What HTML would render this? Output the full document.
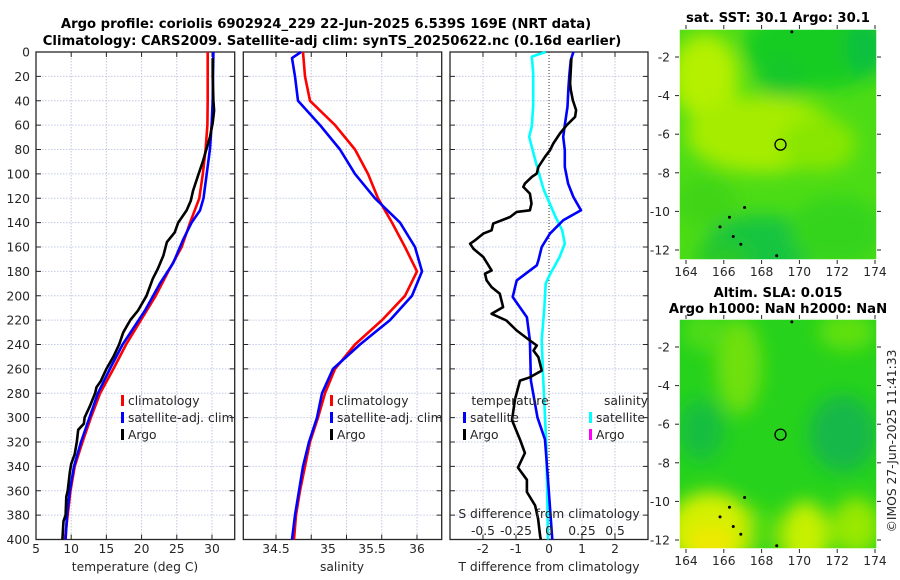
<!DOCTYPE html>
<html><head><meta charset="utf-8">
<style>
html,body{margin:0;padding:0;background:#fff;}
svg{display:block;font-family:"DejaVu Sans","Liberation Sans",sans-serif;}
.tk{font-size:12.3px;fill:#262626;}
.ttl{font-size:13.2px;font-weight:bold;fill:#000;}
</style></head>
<body>
<svg id="fig" width="900" height="580" viewBox="0 0 900 580" xmlns="http://www.w3.org/2000/svg">
<defs>
<filter id="bl" x="-50%" y="-50%" width="200%" height="200%"><feGaussianBlur stdDeviation="9"/></filter>
<clipPath id="cm1"><rect x="679" y="29" width="198" height="231"/></clipPath>
<clipPath id="cm2"><rect x="679" y="319" width="198" height="230"/></clipPath>
</defs>
<text class="ttl" x="326" y="28" text-anchor="middle">Argo profile: coriolis 6902924_229 22-Jun-2025 6.539S 169E (NRT data)</text>
<text class="ttl" x="332" y="45" text-anchor="middle">Climatology: CARS2009. Satellite-adj clim: synTS_20250622.nc (0.16d earlier)</text>
<g id="plots"></g>
<text class="ttl" x="778" y="22" text-anchor="middle">sat. SST: 30.1 Argo: 30.1</text>
<text class="ttl" x="778" y="297" text-anchor="middle">Altim. SLA: 0.015</text>
<text class="ttl" x="778" y="313" text-anchor="middle">Argo h1000: NaN h2000: NaN</text>
<text class="tk" transform="translate(896,441) rotate(-90)" text-anchor="middle">©IMOS 27-Jun-2025 11:41:33</text>
</svg>
<script>
// ---- data ----
const depthStd = [0,20,40,60,80,100,120,140,160,180,200,220,240,260,280,300,320,340,360,380,400];
const tempClim = [29.4,29.4,29.4,29.35,29.1,28.7,28.2,26.9,25.7,23.8,22.0,19.9,17.8,16.0,14.1,12.8,11.6,10.5,9.9,9.5,9.1];
const depthSatT = [0,20,40,60,80,100,120,130,140,154,173,190,212,240,260,280,300,320,340,360,380,400];
const tempSat = [30.2,30.15,30.1,29.95,29.7,29.25,28.8,28.3,27.1,25.9,24.5,22.6,20.5,17.3,15.5,13.8,12.6,11.4,10.4,9.8,9.4,9.2];
const depthArgo = [5,20,40,48,58,70,80,90,100,114,122,130,140,148,156,167,178,186,200,212,220,230,240,250,260,270,275,280,290,300,305,310,320,330,338,345,360,365,380,385,400];
const tempArgo = [30.1,30.1,30.2,30.3,30.1,29.7,29.2,28.7,28.1,27.3,27.0,26.4,25.2,24.7,23.6,23.1,22.3,21.6,20.7,19.5,18.4,17.4,16.8,16.0,15.0,14.2,13.6,13.4,12.7,11.9,11.8,11.0,10.8,10.5,10.0,9.8,9.5,9.3,9.2,8.9,8.75];
const salClim = [34.787,34.809,34.862,35.128,35.340,35.479,35.585,35.734,35.872,36.0,35.872,35.628,35.340,35.128,35.021,34.947,34.862,34.809,34.755,34.713,34.691];
const depthSatS = [0,5,20,40,60,80,100,120,140,160,180,200,220,240,260,280,300,320,340,360,380,400];
const salSat = [34.766,34.670,34.702,34.734,34.968,35.181,35.340,35.553,35.819,35.979,36.053,35.947,35.713,35.394,35.106,34.989,34.936,34.851,34.787,34.745,34.702,34.670];
const depthDiffSatT = [0,6.6,17.5,28.5,44.9,60,69.6,80.6,94.3,108,119,129.9,138.1,149,160,171,175,187.4,201,217.6,236.7,269.6,300,318,351,400];
const diffSatT = [0.74,0.66,0.62,0.59,0.56,0.48,0.43,0.48,0.48,0.58,0.74,0.97,0.43,0.03,-0.22,-0.32,-0.37,-0.98,-1.10,-0.67,-0.58,-0.55,-0.35,-0.12,-0.03,0.1];
const depthDiffArgoT = [5,25.8,31.2,39.5,47.7,53.2,60,66.9,75.1,80.6,86,94.3,99.7,102.5,108,110.7,116.2,124.4,129.9,131.2,135.4,140.8,146.3,149,154.5,157.3,161.4,168.2,179.2,181.9,187.4,192.9,198.4,209.3,214.8,220.3,228.5,236.7,240.8,245,250.4,255.9,261.4,266.9,269.6,285,302,318,329,341,351,361,372,383,397,400];
const diffArgoT = [0.68,0.64,0.66,0.72,0.82,0.79,0.54,0.33,0.13,0.03,-0.12,-0.32,-0.37,-0.52,-0.73,-0.78,-0.58,-0.53,-0.58,-0.98,-1.18,-1.69,-1.74,-1.99,-2.24,-2.39,-2.29,-1.99,-1.74,-1.94,-1.89,-1.74,-1.49,-1.39,-1.74,-1.29,-0.98,-0.58,-0.37,-0.47,-0.32,-0.27,-0.22,-0.58,-0.88,-1.03,-1.12,-0.88,-0.73,-0.94,-0.67,-0.67,-0.42,-0.33,-0.27,-0.25];
const depthDiffSatS = [0,3.8,17.5,44,61,69.6,77.8,94.3,113,121.7,135.4,146.3,157.3,168.2,181.9,190,209.3,236.7,269.6,324,397,400];
const diffSatS = [-0.025,-0.13,-0.12,-0.12,-0.13,-0.15,-0.13,-0.09,-0.04,-0.005,0.05,0.10,0.12,0.08,0.01,-0.025,-0.035,-0.055,-0.043,-0.02,-0.008,-0.008];
const depthTicks = [0,20,40,60,80,100,120,140,160,180,200,220,240,260,280,300,320,340,360,380,400];
const tempTicks = [5,10,15,20,25,30];
const salTicks = [34.5,35,35.5,36];
const salGrid = [34.5,34.875,35.25,35.625,36];
const tdiffTicks = [-2,-1,0,1,2];
const sdiffTicks = [-0.5,-0.25,0,0.25,0.5];
const lonTicks = [164,166,168,170,172,174];
const latTicks = [-2,-4,-6,-8,-10,-12];
const argoLon = 169.0, argoLat = -6.539;

// ---- helpers ----
const NS = 'http://www.w3.org/2000/svg';
const root = document.getElementById('plots');
function mk(tag, attrs, parent){const e=document.createElementNS(NS,tag);for(const k in attrs)e.setAttribute(k,attrs[k]);(parent||root).appendChild(e);return e;}
const Y0=52, Y1=539.5;
const yD = d => Y0 + (d/400)*(Y1-Y0);
function lin(d0,d1,r0,r1){return v=>r0+(v-d0)/(d1-d0)*(r1-r0);}
const xT = lin(5,33.23,36,234.7);
const xS = lin(34.152,36.263,243.3,441.7);
const xTd = lin(-3,3,450,648);
const xSd = lin(-0.75,0.75,450,648);

function panel(name, x0, x1, gridXs){
  const g = mk('g',{});
  
  
  depthTicks.forEach(d=>{
    const l=mk('line',{x1:x0,x2:x1,y1:yD(d),y2:yD(d),stroke:'#c4cbe6','stroke-width':1,'stroke-dasharray':'1.5,1.5'},g);
    
    
    mk('line',{x1:x0,x2:x0+5,y1:yD(d),y2:yD(d),stroke:'#262626'},g);
    mk('line',{x1:x1-5,x2:x1,y1:yD(d),y2:yD(d),stroke:'#262626'},g);
  });
  gridXs.forEach(x=>{
    const l=mk('line',{x1:x,x2:x,y1:Y0,y2:Y1,stroke:'#c8c4de','stroke-width':1,'stroke-dasharray':'1.5,1.5'},g);
    
    
    mk('line',{x1:x,x2:x,y1:Y0,y2:Y0+5,stroke:'#262626'},g);
    mk('line',{x1:x,x2:x,y1:Y1-5,y2:Y1,stroke:'#262626'},g);
  });
  const r=mk('rect',{x:x0,y:Y0,width:x1-x0,height:Y1-Y0,fill:'none',stroke:'#262626','stroke-width':1.3},g);
  
  
  return g;
}
function series(name, g, ds, vs, xf, color){
  const pts = ds.map((d,i)=>xf(vs[i]).toFixed(1)+','+yD(d).toFixed(1)).join(' ');
  const p = mk('polyline',{points:pts,fill:'none',stroke:color,'stroke-width':2.6,'stroke-linejoin':'round'},g);
  
  
}
function text(name, x, y, s, anchor, g, cls){
  const t = mk('text',{x:x,y:y,'text-anchor':anchor||'middle',class:cls||'tk'},g);
  t.textContent = s;
  
  
  return t;
}
function legItem(name, g, x, y, color, label){
  const r = mk('rect',{x:x,y:y-10,width:3,height:11,fill:color},g);
  
  
  text(name+'-label', x+7, y, label, 'start', g);
}

depthTicks.forEach(d=>text('depth-tick-label',30,yD(d)+4.5,String(d),'end'));

const g1 = panel('temperature-panel',36,234.7,tempTicks.map(xT));
series('temp-climatology-line',g1,depthStd,tempClim,xT,'#ff0000');
series('temp-satellite-line',g1,depthSatT,tempSat,xT,'#0000ff');
series('temp-argo-line',g1,depthArgo,tempArgo,xT,'#000000');
tempTicks.forEach(v=>text('temp-tick-label',xT(v),553,String(v)));
text('temp-axis-title',135,571,'temperature (deg C)');
legItem('legend-climatology',g1,121,405,'#ff0000','climatology');
legItem('legend-satellite-adj',g1,121,422,'#0000ff','satellite-adj. clim');
legItem('legend-argo',g1,121,439,'#000000','Argo');

const g2 = panel('salinity-panel',243.3,441.7,salGrid.map(xS));
series('sal-climatology-line',g2,depthStd,salClim,xS,'#ff0000');
series('sal-satellite-line',g2,depthSatS,salSat,xS,'#0000ff');
[276,328,372,417].forEach((px,i)=>text('sal-tick-label',px,553,String(salTicks[i])));
text('sal-axis-title',342,571,'salinity');
legItem('legend2-climatology',g2,330,405,'#ff0000','climatology');
legItem('legend2-satellite-adj',g2,330,422,'#0000ff','satellite-adj. clim');
legItem('legend2-argo',g2,330,439,'#000000','Argo');

const g3 = panel('difference-panel',450,648,tdiffTicks.filter(v=>v!==0).map(xTd));
const zl = mk('line',{x1:xTd(0),x2:xTd(0),y1:Y0,y2:Y1,stroke:'#333','stroke-width':1,'stroke-dasharray':'1,2'},g3);


series('sdiff-satellite-line',g3,depthDiffSatS,diffSatS,xSd,'#00ffff');
series('tdiff-satellite-line',g3,depthDiffSatT,diffSatT,xTd,'#0000ff');
series('tdiff-argo-line',g3,depthDiffArgoT,diffArgoT,xTd,'#000000');
tdiffTicks.forEach(v=>text('tdiff-tick-label',xTd(v),553,String(v)));
sdiffTicks.forEach(v=>text('sdiff-tick-label',xSd(v),535,String(v)));
text('sdiff-axis-title',549,518,'S difference from climatology');
text('tdiff-axis-title',549,571,'T difference from climatology');
text('legend3-temperature-header',510,405,'temperature');
legItem('legend3-temp-satellite',g3,463,422,'#0000ff','satellite');
legItem('legend3-temp-argo',g3,463,439,'#000000','Argo');
text('legend3-salinity-header',626,405,'salinity');
legItem('legend3-sal-satellite',g3,589,422,'#00ffff','satellite');
legItem('legend3-sal-argo',g3,589,439,'#ff00ff','Argo');

const xLon = lin(164,174,686,875);
function map(name, top, bottom, latTop, clip, base, blobs){
  const yLat = lin(-2,-12,latTop, latTop+193);
  const g = mk('g',{});
  
  
  const c = mk('g',{'clip-path':'url(#'+clip+')'},g);
  mk('rect',{x:679,y:top,width:198,height:bottom-top,fill:base},c);
  const bg = mk('g',{filter:'url(#bl)'},c);
  blobs.forEach(b=>{
    const e=mk('ellipse',{cx:xLon(b[0]),cy:yLat(b[1]),rx:b[2]*18.9,ry:b[3]*19.3,fill:b[4]},bg);
    
    
  });
  [[165.8,-10.8],[166.5,-11.3],[166.9,-11.7],[166.3,-10.3],[167.1,-9.8],[168.8,-12.3],[169.6,-0.7]].forEach(p=>{
    mk('circle',{cx:xLon(p[0]),cy:yLat(p[1]),r:1.5,fill:'#000'},c);
  });
  const ci=mk('circle',{cx:xLon(argoLon),cy:yLat(argoLat),r:5.5,fill:'none',stroke:'#000','stroke-width':1.3},g);
  
  
  mk('rect',{x:679,y:top,width:198,height:bottom-top,fill:'none',stroke:'#fff','stroke-width':1.5},g);
  lonTicks.forEach(v=>{
    mk('line',{x1:xLon(v),x2:xLon(v),y1:top-4,y2:top,stroke:'#262626'},g);
    mk('line',{x1:xLon(v),x2:xLon(v),y1:bottom,y2:bottom+4,stroke:'#262626'},g);
    text('lon-tick-label',xLon(v),bottom+16,String(v),'middle',g);
  });
  latTicks.forEach(v=>{
    mk('line',{x1:675,x2:679,y1:yLat(v),y2:yLat(v),stroke:'#262626'},g);
    mk('line',{x1:877,x2:881,y1:yLat(v),y2:yLat(v),stroke:'#262626'},g);
    text('lat-tick-label',670,yLat(v)+4.5,String(v),'end',g);
  });
}
map('sst-map',29,260,57,'cm1','#4cdc16',[
  [171,-1.5,4,2.2,'#18cc22'],[169,-3,1.2,1.2,'#14c82a'],[173.5,-1.5,1,1.5,'#10c040'],
  [165,-3,1.8,2.2,'#b4f000'],[168,-6,4,2,'#a6ec00'],[171,-6.5,2,1.4,'#88e600'],
  [165,-9.5,1.6,1.3,'#40d418'],[168,-11.8,3,1.6,'#14c440'],[172,-11,2.5,1.8,'#34d41c'],[166,-12.3,1.5,0.8,'#28c82c']]);
map('sla-map',319,549,347,'cm2','#26d21c',[
  [166.8,-3,1.2,2.5,'#70e010'],[172.5,-1.2,1.5,1,'#60e010'],[165,-1.2,1.2,1,'#50dc14'],
  [172.3,-6.5,1.8,2,'#12b848'],[164.8,-6.3,1.2,1.6,'#18be40'],
  [165.3,-11.5,2.3,2,'#d4f000'],[165.3,-12.2,1.2,0.9,'#f0e800'],[170.3,-11.8,1.3,1.8,'#c6f000'],
  [173,-11.3,1.3,1.5,'#98e800'],[168,-11.5,0.8,1.2,'#50dc10']]);
</script>
</body></html>
